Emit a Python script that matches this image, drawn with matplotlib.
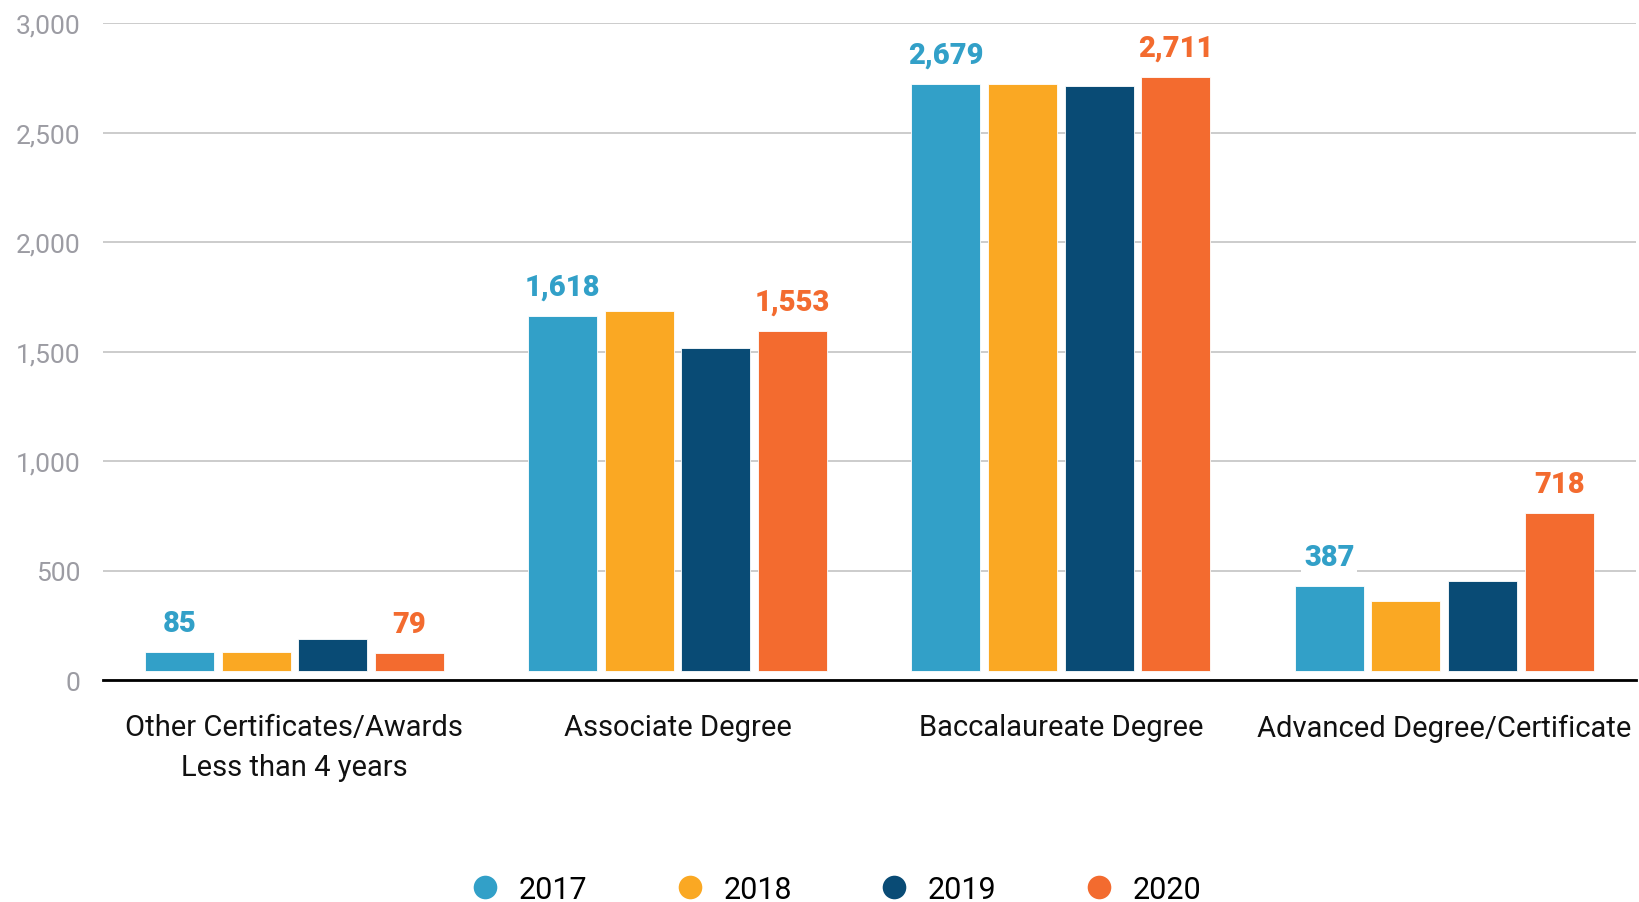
import matplotlib
matplotlib.use("Agg")
import matplotlib.pyplot as plt
from matplotlib.lines import Line2D
import numpy as np

categories = ["Other Certificates/Awards\nLess than 4 years", "Associate Degree",
              "Baccalaureate Degree", "Advanced Degree/Certificate"]
years = ["2017", "2018", "2019", "2020"]
v2017 = [85, 1618, 2679, 387]
v2018 = [84, 1644, 2680, 316]
v2019 = [144, 1473, 2669, 410]
v2020 = [79, 1553, 2711, 718]
labelled = ["2017", "2020"]

colors = ["#32A0C8", "#FAA823", "#094B75", "#F36B2F"]
series = [v2017, v2018, v2019, v2020]

plt.rcParams['font.family'] = ['Roboto', 'DejaVu Sans']

fig = plt.figure(figsize=(16.39, 9.03), dpi=100)
ax = fig.add_axes([0.0627, 0.2458, 0.9353, 0.7276])

x = np.arange(len(categories))
base = 43  # bars float a little above the zero line in the original
step = 0.2
width = 0.18
for i, (yr, vals, col) in enumerate(zip(years, series, colors)):
    xs = x + (i - 1.5) * step
    ax.bar(xs, vals, width, bottom=base, color=col, edgecolor="white",
           linewidth=0.6, zorder=3)
    if yr in labelled:
        for xx, v in zip(xs, vals):
            ax.text(xx, v + base + 70, f"{v:,}", ha="center", va="bottom",
                    fontsize=21, fontweight="heavy", color=col, zorder=4,
                    bbox=dict(facecolor="white", edgecolor="none", pad=2))

ax.set_xlim(-0.5, 3.5)
ax.set_ylim(0, 3000)
ax.set_yticks(range(0, 3001, 500))
ax.set_yticklabels([f"{t:,}" for t in range(0, 3001, 500)])
ax.yaxis.grid(True, color="#cccccc", linewidth=1.4, zorder=0)
ax.set_axisbelow(True)
ax.set_xticks(x)
ax.set_xticklabels(categories, fontsize=21, color="#111111", linespacing=1.55)
ax.tick_params(axis="x", length=0, pad=24)
ax.tick_params(axis="y", length=0, pad=16, labelsize=19, labelcolor="#9c9ca3")
for s in ["top", "right", "left"]:
    ax.spines[s].set_visible(False)
ax.spines["bottom"].set_linewidth(2)
ax.spines["bottom"].set_color("black")
ax.spines["bottom"].set_zorder(5)

handles = [Line2D([], [], marker="o", linestyle="none", markersize=17,
                  markerfacecolor=c, markeredgecolor="none") for c in colors]
fig.legend(handles, years, loc="center", bbox_to_anchor=(0.505, 0.014),
           ncol=4, frameon=False, fontsize=22, handletextpad=0.1,
           columnspacing=2.35)

fig.savefig("out.png", dpi=100)
